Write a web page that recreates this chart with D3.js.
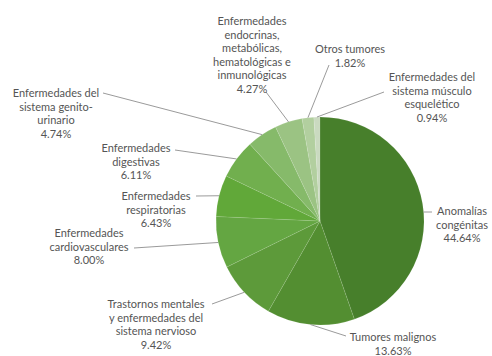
<!DOCTYPE html>
<html>
<head>
<meta charset="utf-8">
<script src="https://cdn.jsdelivr.net/npm/d3@7"></script>
<style>
  html, body { margin: 0; padding: 0; background: #fff; }
  svg { display: block; }
</style>
</head>
<body>
<svg id="chart" width="492" height="356"></svg>
<script>
// Causes, in clockwise order from 12 o'clock
const categories = [
  "Anomalías congénitas",
  "Tumores malignos",
  "Trastornos mentales y enfermedades del sistema nervioso",
  "Enfermedades cardiovasculares",
  "Enfermedades respiratorias",
  "Enfermedades digestivas",
  "Enfermedades del sistema genito-urinario",
  "Enfermedades endocrinas, metabólicas, hematológicas e inmunológicas",
  "Otros tumores",
  "Enfermedades del sistema músculo esquelético"
];
// Share of each cause (%)
const values = [44.64, 13.63, 9.42, 8.00, 6.43, 6.11, 4.74, 4.27, 1.82, 0.94];
// Label text, broken into lines (percentage appended when drawn)
const labelLines = [
  ["Anomalías", "congénitas"],
  ["Tumores malignos"],
  ["Trastornos mentales", "y enfermedades del", "sistema nervioso"],
  ["Enfermedades", "cardiovasculares"],
  ["Enfermedades", "respiratorias"],
  ["Enfermedades", "digestivas"],
  ["Enfermedades del", "sistema genito-", "urinario"],
  ["Enfermedades", "endocrinas,", "metabólicas,", "hematológicas e", "inmunológicas"],
  ["Otros tumores"],
  ["Enfermedades del", "sistema músculo", "esquelético"]
];
const sliceColors = [
  "#4e8b2f", "#5b9b36", "#66a83f", "#6db548", "#6ab83e",
  "#7cbf55", "#92cb74", "#a9d58f", "#c3e2ae", "#ddeed2"
];

// Label layout: text centre x, first line y, and where the leader meets the label
const labelLayout = [
  { x: 462, y: 210, ax: 432, ay: 212, flat: true },
  { x: 393, y: 336, ax: 346, ay: 336 },
  { x: 156, y: 303, ax: 212, ay: 304 },
  { x: 89,  y: 232, ax: 134, ay: 248 },
  { x: 156, y: 195, ax: 196, ay: 196 },
  { x: 136, y: 147, ax: 175, ay: 150 },
  { x: 56,  y: 92,  ax: 103, ay: 93 },
  { x: 252, y: 20,  ax: 266, ay: 92 },
  { x: 350, y: 48,  ax: 329, ay: 65 },
  { x: 432, y: 76,  ax: 384, ay: 92 }
];

const cx = 320, cy = 221, r = 104;
const lineH = 13.6;

const svg = d3.select("#chart");
const defs = svg.append("defs");

const pie = d3.pie().sort(null).value(d => d)(values);
const arc = d3.arc().innerRadius(0).outerRadius(r);

// Soft radial shading for each slice
sliceColors.forEach((c, i) => {
  const g = defs.append("radialGradient")
    .attr("id", "grad" + i)
    .attr("gradientUnits", "userSpaceOnUse")
    .attr("cx", cx).attr("cy", cy).attr("r", r);
  g.append("stop").attr("offset", "0%").attr("stop-color", d3.color(c).brighter(0.25));
  g.append("stop").attr("offset", "80%").attr("stop-color", c);
  g.append("stop").attr("offset", "100%").attr("stop-color", d3.color(c).darker(0.25));
});

const pieG = svg.append("g").attr("transform", `translate(${cx},${cy})`);
pieG.selectAll("path.slice")
  .data(pie)
  .join("path")
  .attr("class", "slice")
  .attr("d", arc)
  .attr("fill", (d, i) => `url(#grad${i})`)
  .attr("stroke", "rgba(255,255,255,0.18)")
  .attr("stroke-width", 0.5);

// Leader lines from the slice edge to the label
const leaders = svg.append("g")
  .attr("fill", "none")
  .attr("stroke", "#8f8f8f")
  .attr("stroke-width", 0.9);

pie.forEach((d, i) => {
  const L = labelLayout[i];
  let sx, sy;
  if (L.flat) {
    sy = L.ay;
    sx = cx + Math.sqrt(r * r - (sy - cy) * (sy - cy));
  } else {
    const a = (d.startAngle + d.endAngle) / 2;
    sx = cx + r * Math.sin(a);
    sy = cy - r * Math.cos(a);
  }
  leaders.append("path").attr("d", d3.line()([[sx, sy], [L.ax, L.ay]]));
});

// Labels
const labels = svg.append("g")
  .attr("font-family", "Lato, 'Open Sans', sans-serif")
  .attr("font-size", 11)
  .attr("fill", "#555555")
  .attr("text-anchor", "middle");

values.forEach((v, i) => {
  const L = labelLayout[i];
  const lines = labelLines[i].concat([d3.format(".2f")(v) + "%"]);
  const t = labels.append("text").attr("x", L.x).attr("y", L.y)
    .attr("dominant-baseline", "central");
  lines.forEach((s, k) => {
    t.append("tspan").attr("x", L.x).attr("y", L.y + k * lineH).text(s);
  });
});
</script>
</body>
</html>
